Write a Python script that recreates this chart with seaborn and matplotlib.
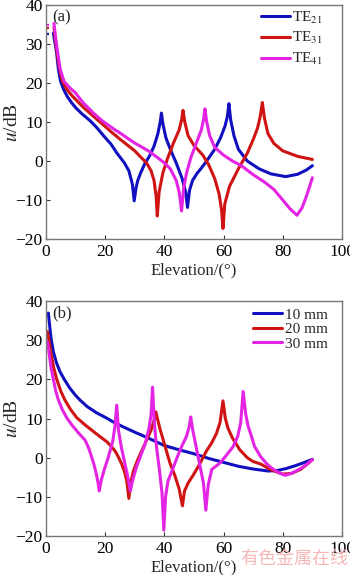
import matplotlib
matplotlib.use("Agg")
import matplotlib.pyplot as plt
import seaborn as sns

# ---- panel (a): TE modes ----
te21_x = [2.5, 3.0, 3.6, 4.2, 4.95, 6.0, 7.3, 8.7, 10.0, 12.0, 14.8, 17.0, 20.0, 22.0, 23.9, 25.0,
          26.5, 28.0, 29.2, 29.8, 30.4, 31.0, 32.0, 33.5, 35.0, 36.5, 37.8, 38.6, 39.0, 39.5, 40.5,
          42.0, 44.0, 46.0, 47.2, 47.8, 48.5, 49.5, 51.0, 52.5, 54.0, 57.0, 59.0, 60.5, 61.3, 61.8,
          62.4, 63.5, 65.0, 68.0, 72.0, 76.0, 81.0, 85.0, 88.0, 90.0]
te21_y = [32.8, 30.5, 27.7, 23.5, 20.4, 18.3, 16.4, 14.9, 13.7, 12.2, 10.4, 8.7, 6.0, 4.3, 2.1, 1.0,
          -0.5, -2.5, -6.0, -10.2, -7.0, -5.0, -3.0, -0.5, 1.3, 3.8, 7.0, 10.0, 12.3, 9.5, 6.0,
          3.0, -0.5, -4.5, -8.0, -11.9, -7.5, -5.0, -3.2, -1.8, -0.3, 3.0, 6.0, 9.0, 11.5, 14.7,
          10.5, 6.5, 3.0, 0.0, -2.0, -3.3, -4.0, -3.4, -2.3, -1.2]

te31_x = [2.7, 3.2, 3.8, 4.6, 5.6, 7.0, 9.0, 10.9, 13.0, 16.0, 19.3, 22.0, 25.0, 28.0, 30.0, 32.0,
          34.0, 35.5, 36.5, 37.2, 37.6, 38.2, 39.5, 41.0, 43.0, 45.0, 45.8, 46.3, 46.9, 48.0, 50.0,
          53.0, 55.0, 57.0, 58.5, 59.3, 59.8, 60.4, 62.0, 65.0, 68.0, 70.0, 71.5, 72.4, 73.1, 73.8,
          75.0, 77.0, 80.0, 85.0, 90.0]
te31_y = [34.3, 31.0, 27.5, 23.5, 20.4, 18.4, 16.6, 15.1, 13.5, 11.5, 9.3, 7.5, 5.6, 3.8, 2.6, 1.0,
          -0.5, -2.5, -5.0, -9.0, -14.1, -8.0, -3.0, 0.5, 4.5, 8.0, 10.5, 13.0, 10.0, 6.5, 4.0,
          1.5, -1.0, -4.5, -8.5, -12.5, -17.3, -11.0, -6.5, -2.0, 2.0, 5.5, 8.5, 11.5, 15.0, 11.0,
          7.0, 4.5, 2.6, 1.2, 0.4]

te41_x = [2.7, 3.2, 3.8, 4.8, 6.1, 8.0, 9.8, 12.6, 16.0, 19.0, 22.7, 25.0, 28.0, 30.0, 33.0, 35.0,
          38.0, 40.0, 42.0, 44.0, 45.0, 45.8, 46.5, 47.5, 49.0, 51.0, 52.5, 53.2, 53.7, 54.3, 55.3,
          57.0, 60.0, 63.0, 66.0, 70.0, 74.0, 77.0, 80.0, 82.5, 84.8, 86.5, 88.0, 90.0]
te41_y = [35.3, 32.0, 28.5, 23.5, 20.4, 18.8, 17.6, 14.9, 12.3, 10.3, 8.3, 7.2, 5.6, 4.6, 3.3, 2.4,
          0.7, -0.5, -2.0, -5.0, -8.0, -12.8, -7.0, -3.0, 1.0, 5.0, 8.0, 10.5, 13.4, 10.0, 6.5,
          3.5, 1.5, 0.0, -1.2, -3.5, -5.5, -7.3, -10.0, -12.3, -13.9, -12.0, -9.0, -4.3]

# ---- panel (b): thickness ----
mm10_x = [0.8, 1.2, 1.7, 2.5, 3.5, 4.7, 6.1, 8.0, 10.0, 11.5, 14.0, 17.0, 20.5, 23.0, 26.0, 30.0,
          34.0, 40.0, 45.0, 50.0, 55.0, 60.0, 65.0, 70.0, 75.0, 78.0, 81.0, 84.0, 87.0, 90.0]
mm10_y = [36.9, 34.0, 30.5, 27.0, 24.3, 22.0, 20.1, 17.8, 15.9, 14.7, 13.0, 11.5, 10.1, 9.0, 7.9, 6.5,
          5.2, 3.1, 2.0, 1.0, -0.2, -1.2, -2.2, -2.9, -3.4, -3.3, -2.8, -2.1, -1.3, -0.4]

mm20_x = [0.5, 1.0, 1.8, 2.6, 3.6, 5.0, 6.4, 8.3, 10.4, 13.0, 15.5, 18.2, 20.5, 22.2, 23.5, 24.4,
          25.5, 26.5, 27.3, 28.0, 28.6, 29.5, 31.0, 32.5, 34.0, 35.5, 36.5, 37.1, 37.8, 38.5, 40.0,
          41.9, 43.5, 45.0, 46.1, 46.8, 48.0, 49.7, 52.0, 54.2, 56.0, 57.6, 58.8, 59.8, 60.6, 61.5,
          63.0, 65.5, 68.0, 70.0, 72.5, 76.0, 80.0, 83.0, 86.0, 88.0, 90.0]
mm20_y = [32.2, 30.0, 26.0, 23.0, 20.1, 17.0, 14.7, 12.3, 10.2, 8.5, 7.0, 5.4, 4.1, 2.8, 1.5, 0.25,
          -1.5, -3.5, -6.0, -10.4, -6.5, -3.5, -0.5, 2.0, 4.5, 7.0, 9.5, 11.7, 9.5, 7.4, 3.5,
          -1.4, -4.5, -8.0, -12.3, -8.5, -6.5, -4.5, -1.5, 1.7, 3.8, 6.2, 9.0, 14.5, 10.0, 7.5,
          5.0, 2.0, 0.0, -1.0, -1.6, -3.1, -4.2, -4.0, -3.0, -1.8, -0.5]

mm30_x = [0.5, 1.0, 1.7, 2.5, 3.3, 4.2, 5.5, 7.0, 8.8, 11.0, 13.2, 14.4, 15.4, 16.3, 17.1, 17.6,
          18.0, 18.6, 19.5, 21.0, 22.5, 23.3, 23.9, 24.5, 25.5, 26.8, 27.8, 28.5, 29.2, 30.5, 32.0,
          33.5, 34.8, 35.5, 36.0, 36.6, 37.3, 38.3, 39.2, 39.8, 40.4, 41.2, 42.5, 44.0, 45.8, 47.5,
          48.4, 48.9, 49.6, 50.8, 52.0, 53.2, 54.0, 54.8, 56.0, 58.7, 60.5, 63.2, 64.8, 65.8, 66.6,
          67.5, 68.3, 69.1, 70.5, 72.5, 74.5, 76.3, 78.5, 80.8, 83.0, 86.0, 88.0, 90.0]
mm30_y = [29.6, 27.0, 23.0, 20.0, 17.0, 14.7, 12.3, 10.2, 8.3, 6.3, 4.5, 2.5, 0.25, -2.0, -4.5, -6.5,
          -8.5, -6.0, -3.5, 0.0, 4.0, 8.0, 13.4, 7.0, 2.5, -2.0, -5.5, -8.5, -6.0, -2.5, 0.5,
          3.5, 7.5, 11.0, 18.0, 9.0, 3.0, -3.0, -9.0, -18.5, -10.0, -6.0, -3.5, -0.5, 2.8, 5.5,
          8.0, 10.4, 7.0, 2.5, -2.0, -6.5, -13.4, -7.0, -3.0, -1.4, 0.2, 2.8, 5.5, 9.0, 16.9,
          11.0, 8.0, 6.2, 2.8, 0.3, -1.5, -2.7, -3.8, -4.5, -4.0, -2.8, -1.8, -0.5]

x_ticks = [0, 20, 40, 60, 80, 100]
y_ticks = [-20, -10, 0, 10, 20, 30, 40]

BLUE = "#1010c0"
RED = "#d01414"
MAGENTA = "#e424e4"

sns.set_theme(style="white")
plt.rcParams['font.family'] = ['Liberation Serif', 'DejaVu Serif']
plt.rcParams['mathtext.fontset'] = 'stix'

fig = plt.figure(figsize=(3.5, 5.75), dpi=100)
ax_a = fig.add_axes([0.1314, 0.5843, 0.8457, 0.407])
ax_b = fig.add_axes([0.1314, 0.0678, 0.8457, 0.4087])

def style_axis(ax, tag):
    ax.set_xlim(0, 100); ax.set_ylim(-20, 40)
    ax.set_xticks(x_ticks); ax.set_yticks(y_ticks)
    ax.set_yticklabels([f"{t}".replace("-", "\u2212") for t in y_ticks])
    ax.tick_params(direction='in', length=3, width=0.8, labelsize=12.5, colors='#333333',
                   labelcolor='black', bottom=True, left=True)
    ax.tick_params(axis='x', pad=3.5)
    ax.tick_params(axis='y', pad=2.5)
    for s in ax.spines.values():
        s.set_color('#777777'); s.set_linewidth(1.0)
    ax.set_xlabel("Elevation/(\u00b0)", fontsize=12)
    ax.set_ylabel("$\\mathit{u}$/dB", fontsize=14)
    ax.xaxis.set_label_coords(0.5, -0.098)
    ax.yaxis.set_label_coords(-0.083, 0.5)
    ax.text(2, 38.8, tag, fontsize=12, va='top', ha='left')

lw = 2.2
sns.lineplot(x=te21_x, y=te21_y, ax=ax_a, color=BLUE, lw=lw, label="TE$_{21}$", estimator=None, sort=False)
sns.lineplot(x=te31_x, y=te31_y, ax=ax_a, color=RED, lw=lw, label="TE$_{31}$", estimator=None, sort=False)
sns.lineplot(x=te41_x, y=te41_y, ax=ax_a, color=MAGENTA, lw=lw, label="TE$_{41}$", estimator=None, sort=False)
# little coloured stubs near the y axis
for yy, c in [(32.5, BLUE), (34.0, RED), (35.0, MAGENTA)]:
    ax_a.plot([0.3, 1.1], [yy, yy], color=c, lw=1.6, ls=(0, (1, 1)))
style_axis(ax_a, "(a)")
ax_a.legend(loc='upper left', bbox_to_anchor=(0.715, 0.993), frameon=False, fontsize=11,
            handlelength=1.9, handletextpad=0.15, labelspacing=0.3, borderaxespad=0, borderpad=0.2)

sns.lineplot(x=mm10_x, y=mm10_y, ax=ax_b, color=BLUE, lw=lw, label="10 mm", estimator=None, sort=False)
sns.lineplot(x=mm20_x, y=mm20_y, ax=ax_b, color=RED, lw=lw, label="20 mm", estimator=None, sort=False)
sns.lineplot(x=mm30_x, y=mm30_y, ax=ax_b, color=MAGENTA, lw=lw, label="30 mm", estimator=None, sort=False)
style_axis(ax_b, "(b)")
ax_b.legend(loc='upper left', bbox_to_anchor=(0.69, 0.983), frameon=False, fontsize=11,
            handlelength=1.9, handletextpad=0.15, labelspacing=0.05, borderaxespad=0, borderpad=0.2)

fig.text(0.995, 0.012, "有色金属在线", fontsize=13, color='#f4b8b8', ha='right', va='bottom',
         family=['Noto Sans CJK SC', 'DejaVu Sans'])

fig.savefig("out.png", dpi=100)
